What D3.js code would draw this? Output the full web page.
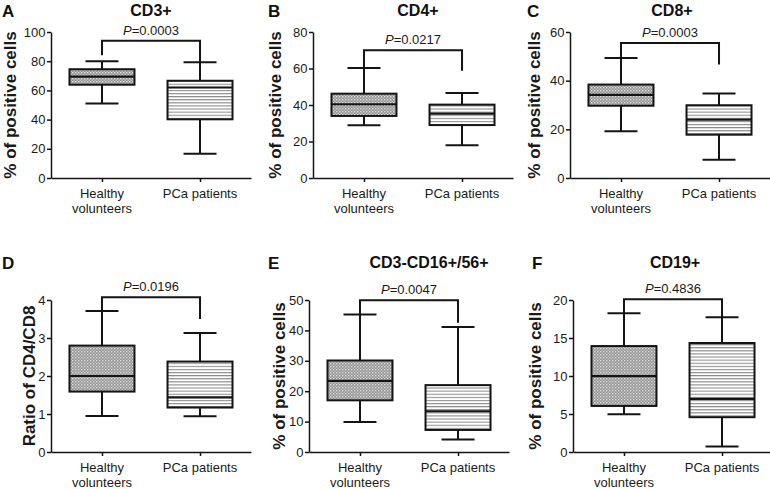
<!DOCTYPE html>
<html><head><meta charset="utf-8">
<script src="https://cdn.jsdelivr.net/npm/d3@7"></script>
<style>
body{margin:0;background:#fff;}
svg{display:block;font-family:"Liberation Sans",Arial,sans-serif;}
</style></head><body>
<svg id="chart" width="770" height="489"></svg>
<script>
// ---- data ----
const panelLetters = ["A","B","C","D","E","F"];
const panelTitles = ["CD3+","CD4+","CD8+","","CD3-CD16+/56+","CD19+"];
const yAxisTitles = ["% of positive cells","% of positive cells","% of positive cells","Ratio of CD4/CD8","% of positive cells","% of positive cells"];
const categories = ["Healthy volunteers","PCa patients"];
const pValues = ["0.0003","0.0217","0.0003","0.0196","0.0047","0.4836"];
const yMax = [100,80,60,4,50,20];
const yTickStep = [20,20,20,1,10,5];
// [min, q1, median, q3, max]
const healthyStats = [
  [51, 63.9, 69.5, 74.5, 80],
  [28.9, 34, 40.4, 46.2, 60.3],
  [19.2, 29.7, 34.2, 38.4, 49.3],
  [0.95, 1.59, 2.0, 2.8, 3.71],
  [9.9, 17.0, 23.4, 30.1, 45.2],
  [4.97, 6.06, 9.98, 13.94, 18.26]
];
const pcaStats = [
  [16.6, 40.2, 62, 66.6, 79.3],
  [17.9, 29, 35.3, 40.2, 46.6],
  [7.5, 17.8, 24, 29.9, 34.7],
  [0.94, 1.17, 1.44, 2.38, 3.13],
  [4.1, 7.25, 13.4, 22, 41.1],
  [0.74, 4.58, 7.0, 14.34, 17.73]
];
// [bracket level, left leg end, right leg end]
const brackets = [
  [94, 84, 79.3],
  [70, 60.3, 58.8],
  [55.5, 49.3, 46.6],
  [4.07, 3.71, 3.5],
  [49.9, 45.2, 42.5],
  [20.1, 18.26, 17.73]
];

// ---- layout ----
const axisX = [51, 313, 570, 51, 309, 573];
const rowTop = [32, 32, 32, 300, 300, 300];
const rowBottom = [178, 178, 178, 452, 452, 452];
const yTitleBaseline = [-35, -32, -30, -16, -24, -32];
const letterX = [2, 268, 527, 2, 268, 532];
const letterY = [17, 17, 17, 269, 269, 269];
const titleY = [16, 16, 16, 0, 268, 268];
const titleDx = [0, 5, 2, 0, 20, 2];

const svg = d3.select("#chart");
const defs = svg.append("defs");
// healthy pattern: fine dotted gray
const ph = defs.append("pattern").attr("id","pHealthy").attr("patternUnits","userSpaceOnUse").attr("width",3).attr("height",3);
ph.append("rect").attr("width",3).attr("height",3).attr("fill","#8f8f8f");
ph.append("rect").attr("x",0).attr("y",0).attr("width",1.4).attr("height",1.4).attr("fill","#e2e2e2");
ph.append("rect").attr("x",1.5).attr("y",1.5).attr("width",1.4).attr("height",1.4).attr("fill","#c8c8c8");
// pca pattern: horizontal lines
const pp = defs.append("pattern").attr("id","pPca").attr("patternUnits","userSpaceOnUse").attr("width",4).attr("height",3.1);
pp.append("rect").attr("width",4).attr("height",3.1).attr("fill","#fff");
pp.append("rect").attr("y",0).attr("width",4).attr("height",1.1).attr("fill","#8a8a8a");

const fills = ["url(#pHealthy)","url(#pPca)"];
const ink = "#141414";

panelLetters.forEach((L, i) => {
  const x0 = axisX[i];
  const g = svg.append("g");
  const y = d3.scaleLinear().domain([0, yMax[i]]).range([rowBottom[i], rowTop[i]]);
  const x = d3.scalePoint().domain(categories).range([x0, x0 + 200]).padding(0.52);

  // y axis
  const ticks = d3.range(0, yMax[i] + yTickStep[i]/2, yTickStep[i]);
  const ya = g.append("g").attr("transform", `translate(${x0},0)`)
    .call(d3.axisLeft(y).tickValues(ticks).tickFormat(d3.format("d")).tickSize(4).tickPadding(1.5).tickSizeOuter(0));
  ya.select(".domain").attr("stroke", ink).attr("stroke-width", 1.5);
  ya.selectAll(".tick line").attr("stroke", ink).attr("stroke-width", 1.5);
  ya.selectAll(".tick text").attr("font-size", 13).attr("fill", "#1a1a1a").attr("font-family", "Liberation Sans, Arial");

  // x axis
  const xa = g.append("g").attr("transform", `translate(0,${rowBottom[i]})`)
    .call(d3.axisBottom(x).tickSize(4).tickSizeOuter(0).tickFormat(""));
  xa.select(".domain").attr("stroke", ink).attr("stroke-width", 1.5);
  xa.selectAll(".tick line").attr("stroke", ink).attr("stroke-width", 1.5);

  // category labels
  categories.forEach(c => {
    const words = c === "Healthy volunteers" ? ["Healthy","volunteers"] : [c];
    words.forEach((w, k) => {
      g.append("text").attr("x", x(c)).attr("y", rowBottom[i] + 20 + k * 15)
        .attr("text-anchor","middle").attr("font-size", 13).attr("fill","#1a1a1a").text(w);
    });
  });

  // y axis title
  g.append("text")
    .attr("transform", `translate(${x0 + yTitleBaseline[i]},${(rowTop[i] + rowBottom[i]) / 2}) rotate(-90)`)
    .attr("text-anchor","middle")
    .attr("font-size", 17).attr("font-weight","bold").attr("fill","#1a1a1a").text(yAxisTitles[i]);

  // panel letter
  g.append("text").attr("x", letterX[i]).attr("y", letterY[i])
    .attr("font-size", 17).attr("font-weight","bold").attr("fill","#111").text(L);

  // title
  if (panelTitles[i]) {
    g.append("text").attr("x", (x(categories[0]) + x(categories[1])) / 2 + titleDx[i]).attr("y", titleY[i])
      .attr("text-anchor","middle").attr("font-size", 16).attr("font-weight","bold").attr("fill","#111").text(panelTitles[i]);
  }

  // boxes
  const boxW = 65, capW = 33;
  [healthyStats[i], pcaStats[i]].forEach((s, k) => {
    const cx = x(categories[k]);
    const [mn, q1, md, q3, mx] = s;
    const bg = g.append("g").attr("stroke", ink).attr("stroke-width", 2);
    bg.append("line").attr("x1", cx).attr("x2", cx).attr("y1", y(q3)).attr("y2", y(mx));
    bg.append("line").attr("x1", cx).attr("x2", cx).attr("y1", y(q1)).attr("y2", y(mn));
    bg.append("line").attr("x1", cx - capW/2).attr("x2", cx + capW/2).attr("y1", y(mx)).attr("y2", y(mx));
    bg.append("line").attr("x1", cx - capW/2).attr("x2", cx + capW/2).attr("y1", y(mn)).attr("y2", y(mn));
    bg.append("rect").attr("x", cx - boxW/2).attr("y", y(q3)).attr("width", boxW).attr("height", y(q1) - y(q3))
      .attr("fill", fills[k]);
    bg.append("line").attr("x1", cx - boxW/2).attr("x2", cx + boxW/2).attr("y1", y(md)).attr("y2", y(md)).attr("stroke-width", 2.2);
  });

  // bracket
  const [bl, le, re] = brackets[i];
  const xl = x(categories[0]), xr = x(categories[1]);
  g.append("path")
    .attr("d", `M${xl},${y(le)}V${y(bl)}H${xr}V${y(re)}`)
    .attr("fill","none").attr("stroke", ink).attr("stroke-width", 2);
  const pt = g.append("text").attr("x", (xl + xr) / 2).attr("y", y(bl) - 6)
    .attr("text-anchor","middle").attr("font-size", 13).attr("fill","#1a1a1a");
  pt.append("tspan").attr("font-style","italic").text("P");
  pt.append("tspan").text("=" + pValues[i]);
});
</script>
</body></html>
